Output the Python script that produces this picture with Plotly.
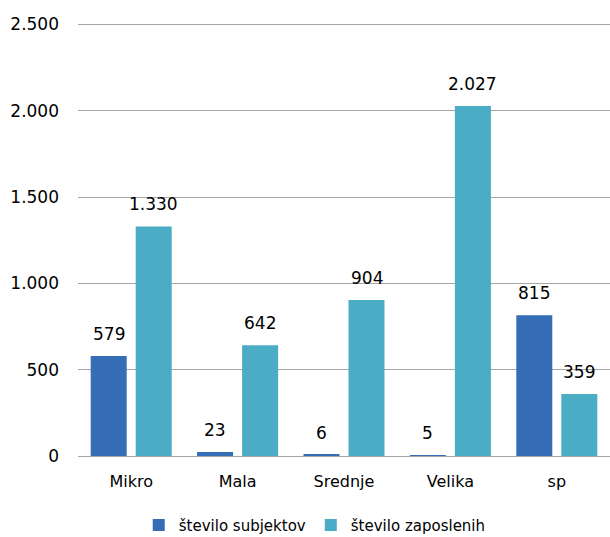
import plotly.graph_objects as go

categories = ["Mikro", "Mala", "Srednje", "Velika", "sp"]
subjekti = [579, 23, 6, 5, 815]
zaposleni = [1330, 642, 904, 2027, 359]
series_names = ["število subjektov", "število zaposlenih"]
y_ticks = [0, 500, 1000, 1500, 2000, 2500]

font_family = "DejaVu Sans"

def fmt(v):
    return f"{v:,}".replace(",", ".")

fig = go.Figure()
fig.add_trace(go.Bar(
    x=categories, y=subjekti, name=series_names[0],
    marker=dict(color="#356DB6", line=dict(width=0)),
))
fig.add_trace(go.Bar(
    x=categories, y=zaposleni, name=series_names[1],
    marker=dict(color="#4BACC6", line=dict(width=0)),
))

for cat, v in zip(categories, subjekti):
    fig.add_annotation(x=cat, y=v, text=fmt(v), showarrow=False, xshift=-22.5,
                       yshift=22, font=dict(size=17, color="#000000", family=font_family))
for cat, v in zip(categories, zaposleni):
    fig.add_annotation(x=cat, y=v, text=fmt(v), showarrow=False, xshift=22.5,
                       yshift=22, font=dict(size=17, color="#000000", family=font_family))

fig.update_layout(
    width=610, height=537,
    margin=dict(l=78, r=0, t=20.5, b=81, autoexpand=False),
    paper_bgcolor="white", plot_bgcolor="white",
    separators=",.",
    barmode="group", bargap=0.154, bargroupgap=0.2,
    font=dict(family=font_family, size=16, color="#000000"),
    showlegend=True,
    legend=dict(orientation="h", x=0.445, xanchor="center",
                yref="container", y=0.022, yanchor="middle",
                font=dict(size=15), traceorder="normal"),
)
fig.update_yaxes(
    range=[0, 2520], tickvals=y_ticks, tickformat=",",
    showgrid=True, gridcolor="#A6A6A6", gridwidth=1.3,
    zeroline=True, zerolinecolor="#A6A6A6", zerolinewidth=1.3,
    ticks="", ticklabelstandoff=18, tickfont=dict(size=17), automargin=False,
)
fig.update_xaxes(
    showgrid=False, showline=False, ticks="", tickfont=dict(size=16),
    ticklabelstandoff=14, automargin=False,
)

fig.write_html(
    "out.html",
    config={"displayModeBar": False},
    post_script="document.body.style.margin='0';document.body.style.overflow='hidden';",
)
